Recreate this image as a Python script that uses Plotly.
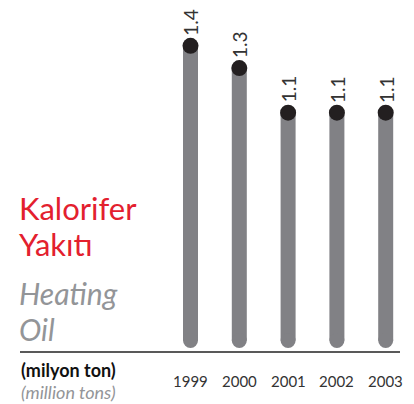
import plotly.graph_objects as go

years = ["1999", "2000", "2001", "2002", "2003"]
values = [1.4, 1.3, 1.1, 1.1, 1.1]
value_labels = ["1.4", "1.3", "1.1", "1.1", "1.1"]

title_tr = ["Kalorifer", "Yakıtı"]
title_en = ["Heating", "Oil"]
unit_tr = "(milyon ton)"
unit_en = "(million tons)"

BAR = "#818185"
DOT = "#231f20"
RED = "#e3202e"
GREY = "#939598"
FONT = "Lato"

# page body margin offset compensation
OFF = 8
W, H = 414 - OFF, 404 - OFF
px_per_unit_x = 48.8
x0_px = 190.5 - OFF
px_per_unit_y = 223.0
y0_px = 358.0 - OFF


def py(y):  # reference pixel y -> paper fraction
    return (H - (y - OFF)) / H


def px(x):
    return (x - OFF) / W


xr = [-x0_px / px_per_unit_x, (W - x0_px) / px_per_unit_x]
yr = [-(H - y0_px) / px_per_unit_y, y0_px / px_per_unit_y]

base = 17.5 / px_per_unit_y  # centre of rounded bottom
xs = list(range(len(years)))

fig = go.Figure()
fig.add_trace(go.Bar(
    x=xs, y=[v - base for v in values], base=[base] * len(values),
    width=15 / px_per_unit_x, marker=dict(color=BAR, line=dict(width=0)),
    hoverinfo="skip",
))
fig.add_trace(go.Scatter(
    x=xs, y=[base] * len(values), mode="markers",
    marker=dict(size=15, color=BAR, line=dict(width=0)), hoverinfo="skip",
))
fig.add_trace(go.Scatter(
    x=xs, y=values, mode="markers",
    marker=dict(size=16, color=DOT, line=dict(width=0)), hoverinfo="skip",
))

ann = []
for x, v, t in zip(xs, values, value_labels):
    ann.append(dict(x=x, y=v, xref="x", yref="y", text=t, showarrow=False,
                    textangle=-90, xanchor="center", yanchor="bottom", yshift=8,
                    font=dict(family=FONT, size=19, color="#333333")))
for x, yl in zip(xs, years):
    ann.append(dict(x=x, y=py(381), xref="x", yref="paper", text=yl,
                    showarrow=False, xanchor="center", yanchor="middle",
                    font=dict(family=FONT, size=15, color="#333333")))

for txt, yp in zip(title_tr, [208, 244]):
    ann.append(dict(x=px(17), y=py(yp), xref="paper", yref="paper", text=txt,
                    showarrow=False, xanchor="left", yanchor="middle",
                    font=dict(family=FONT, size=31, color=RED)))
for txt, yp in zip(title_en, [293, 329]):
    ann.append(dict(x=px(17), y=py(yp), xref="paper", yref="paper",
                    text="<i>" + txt + "</i>",
                    showarrow=False, xanchor="left", yanchor="middle",
                    font=dict(family=FONT, size=30, color=GREY)))
ann.append(dict(x=px(19), y=py(370), xref="paper", yref="paper",
                text="<b>" + unit_tr + "</b>", showarrow=False, xanchor="left",
                yanchor="middle", font=dict(family=FONT, size=18, color="#111111")))
ann.append(dict(x=px(19), y=py(392), xref="paper", yref="paper",
                text="<i>" + unit_en + "</i>", showarrow=False, xanchor="left",
                yanchor="middle", font=dict(family=FONT, size=18, color=GREY)))

fig.update_layout(
    width=W, height=H, margin=dict(l=0, r=0, t=0, b=0),
    paper_bgcolor="white", plot_bgcolor="white", showlegend=False,
    xaxis=dict(range=xr, visible=False, fixedrange=True),
    yaxis=dict(range=yr, visible=False, fixedrange=True),
    annotations=ann,
    shapes=[dict(type="line", xref="paper", yref="paper",
                 x0=px(20), x1=px(400), y0=py(352), y1=py(352),
                 line=dict(color="#222222", width=1.5))],
)

fig.write_html("out.html")
